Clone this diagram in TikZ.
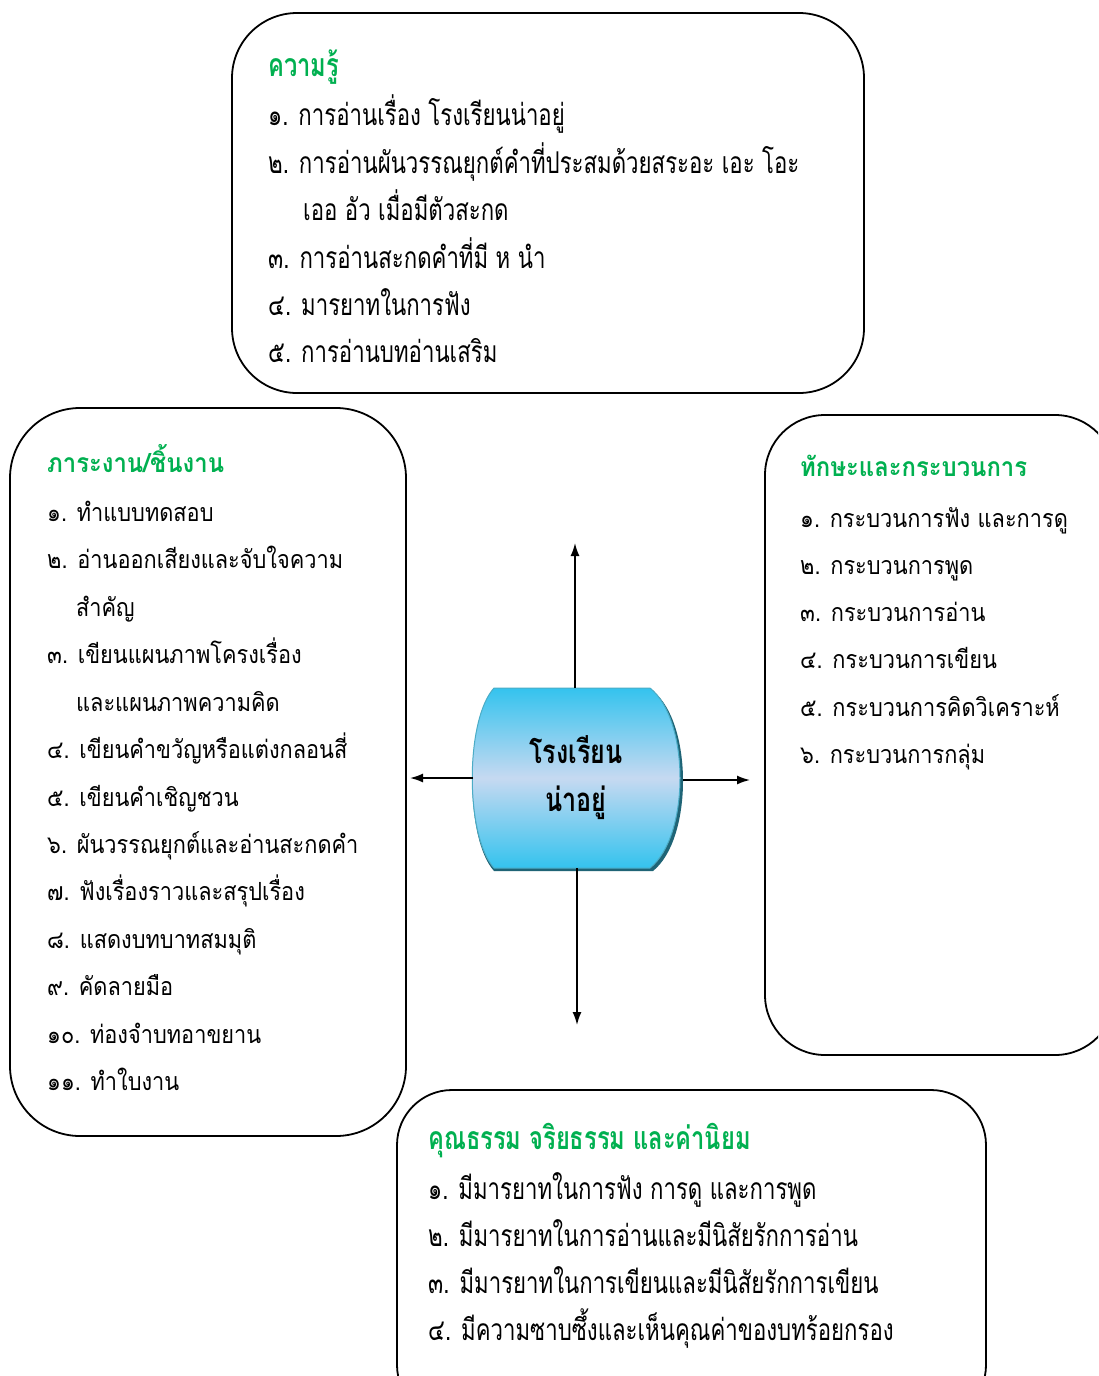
\documentclass[tikz,border=0pt]{standalone}
\usepackage{fontspec}
\usetikzlibrary{arrows.meta}
\newfontfamily\thaiwide[Script=Thai,FakeStretch=0.87]{Loma}
\newfontfamily\thaiwidetitle[Script=Thai,FakeStretch=0.9]{Loma}
\newfontfamily\thainarrow[Script=Thai,FakeStretch=0.74]{Loma}
\newfontfamily\thaicenter[Script=Thai,FakeStretch=0.76]{Loma}
\definecolor{titlegreen}{RGB}{0,176,80}
\definecolor{cylcyan}{RGB}{52,195,238}
\definecolor{cylmid}{RGB}{198,217,241}
\definecolor{cylshadow}{RGB}{31,100,118}
\definecolor{cylline}{RGB}{75,172,198}
\tikzset{
  box/.style={draw=black, line width=1.8pt},
  wline/.style={anchor=base west, inner sep=0pt, font=\thaiwide\fontsize{25}{30}\selectfont},
  nline/.style={anchor=base west, inner sep=0pt, font=\thainarrow\fontsize{30}{34}\selectfont},
  wtitle/.style={anchor=base west, inner sep=0pt, text=titlegreen, font=\thaiwidetitle\bfseries\fontsize{26.5}{30}\selectfont},
  ntitle/.style={anchor=base west, inner sep=0pt, text=titlegreen, font=\thainarrow\bfseries\fontsize{32}{36}\selectfont},
  ctext/.style={inner sep=0pt, font=\thaicenter\bfseries\fontsize{33}{36}\selectfont},
  conn/.style={line width=1.6pt, -{Latex[length=13pt,width=9pt]}},
}
\begin{document}
\begin{tikzpicture}[x=1pt,y=-1pt]
\useasboundingbox (0,0) rectangle (1098,1376);
\clip (0,0) rectangle (1098,1376);
\fill[white] (0,0) rectangle (1098,1376);

% boxes
\draw[box, rounded corners=65pt] (232,13) rectangle (864,393);
\draw[box, rounded corners=70pt] (10,408) rectangle (406,1136);
\draw[box, rounded corners=60pt] (765,415) rectangle (1115,1055);
\draw[box, rounded corners=55pt] (397,1090) rectangle (986,1420);

% top box text
\node[ntitle] (k0) at (268,76) {ความรู้};
\node[nline] (k1) at (268,125) {๑. การอ่านเรื่อง โรงเรียนน่าอยู่};
\node[nline] (k2) at (268,173) {๒. การอ่านผันวรรณยุกต์คำที่ประสมด้วยสระอะ เอะ โอะ};
\node[nline] (k3) at (303,220) {เออ อัว เมื่อมีตัวสะกด};
\node[nline] (k4) at (268,268) {๓. การอ่านสะกดคำที่มี ห นำ};
\node[nline] (k5) at (268,315) {๔. มารยาทในการฟัง};
\node[nline] (k6) at (268,362) {๕. การอ่านบทอ่านเสริม};

% left box text
\node[wtitle] (p0) at (47,472) {ภาระงาน/ชิ้นงาน};
\node[wline] (p1) at (47,521) {๑. ทำแบบทดสอบ};
\node[wline] (p2) at (47,568) {๒. อ่านออกเสียงและจับใจความ};
\node[wline] (p3) at (76,616) {สำคัญ};
\node[wline] (p4) at (47,663) {๓. เขียนแผนภาพโครงเรื่อง};
\node[wline] (p5) at (76,711) {และแผนภาพความคิด};
\node[wline] (p6) at (47,758) {๔. เขียนคำขวัญหรือแต่งกลอนสี่};
\node[wline] (p7) at (47,806) {๕. เขียนคำเชิญชวน};
\node[wline] (p8) at (47,853) {๖. ผันวรรณยุกต์และอ่านสะกดคำ};
\node[wline] (p9) at (47,900) {๗. ฟังเรื่องราวและสรุปเรื่อง};
\node[wline] (p10) at (47,948) {๘. แสดงบทบาทสมมุติ};
\node[wline] (p11) at (47,995) {๙. คัดลายมือ};
\node[wline] (p12) at (47,1043) {๑๐. ท่องจำบทอาขยาน};
\node[wline] (p13) at (47,1090) {๑๑. ทำใบงาน};

% right box text
\node[wtitle] (s0) at (800,476) {ทักษะและกระบวนการ};
\node[wline] (s1) at (800,527) {๑. กระบวนการฟัง และการดู};
\node[wline] (s2) at (800,574) {๒. กระบวนการพูด};
\node[wline] (s3) at (800,621) {๓. กระบวนการอ่าน};
\node[wline] (s4) at (800,668) {๔. กระบวนการเขียน};
\node[wline] (s5) at (800,716) {๕. กระบวนการคิดวิเคราะห์};
\node[wline] (s6) at (800,763) {๖. กระบวนการกลุ่ม};

% bottom box text
\node[ntitle] (v0) at (428,1149) {คุณธรรม จริยธรรม และค่านิยม};
\node[nline] (v1) at (428,1199) {๑. มีมารยาทในการฟัง การดู และการพูด};
\node[nline] (v2) at (428,1246) {๒. มีมารยาทในการอ่านและมีนิสัยรักการอ่าน};
\node[nline] (v3) at (428,1293) {๓. มีมารยาทในการเขียนและมีนิสัยรักการเขียน};
\node[nline] (v4) at (428,1340) {๔. มีความซาบซึ้งและเห็นคุณค่าของบทร้อยกรอง};

% central cylinder
\fill[cylshadow] (494,691) -- (653,691) .. controls (693,723) and (693,839) .. (653,871) -- (494,871) .. controls (465,839) and (465,723) .. (494,691) -- cycle;
\shade[top color=cylcyan, bottom color=cylcyan, middle color=cylmid, draw=cylline, line width=1pt]
  (494,688) -- (650,688) .. controls (690,720) and (690,836) .. (650,868) -- (494,868) .. controls (465,836) and (465,720) .. (494,688) -- cycle;
\node[ctext] (c1) at (576,750) {โรงเรียน};
\node[ctext] (c2) at (576,803) {น่าอยู่};
\coordinate (cN) at (575,688);
\coordinate (cS) at (577,868);
\coordinate (cW) at (473,778);
\coordinate (cE) at (683,780);
\coordinate (eN) at (575,543);
\coordinate (eS) at (577,1025);
\coordinate (eW) at (410,778);
\coordinate (eE) at (750,780);
\draw[conn] (cN) -- (eN);
\draw[conn] (cS) -- (eS);
\draw[conn] (cW) -- (eW);
\draw[conn] (cE) -- (eE);
\end{tikzpicture}
\end{document}
